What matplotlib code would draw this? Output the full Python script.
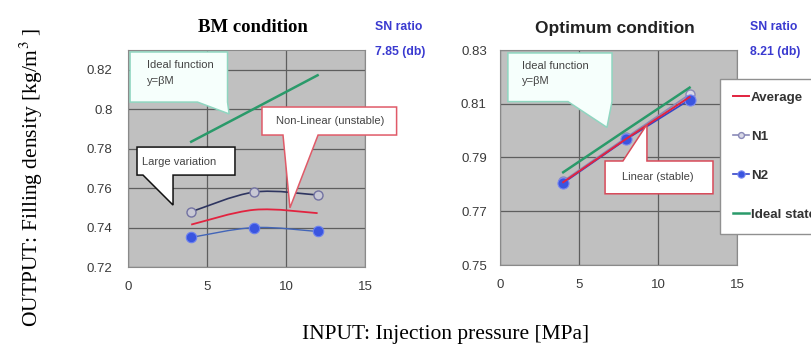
import numpy as np
import matplotlib.pyplot as plt
from matplotlib.path import Path
from matplotlib.patches import PathPatch, Polygon

plt.rcParams['font.family'] = ['Liberation Sans', 'DejaVu Sans']
plt.rcParams['mathtext.fontset'] = 'stix'

# step 1: data
pressure = [4, 8, 12]
xticks = [0, 5, 10, 15]

# BM condition (left)
bm_n1 = [0.748, 0.758, 0.7565]
bm_n2 = [0.735, 0.740, 0.738]
bm_avg = [0.7415, 0.749, 0.7473]
bm_ideal = [0.7835, 0.8003, 0.8172]
bm_yticks = [0.72, 0.74, 0.76, 0.78, 0.80, 0.82]
bm_yticklabels = ['0.72', '0.74', '0.76', '0.78', '0.8', '0.82']

# Optimum condition (right)
opt_n1 = [0.7812, 0.7975, 0.8135]
opt_n2 = [0.7805, 0.7968, 0.8115]
opt_avg = [0.7808, 0.797, 0.8125]
opt_ideal = [0.7845, 0.8003, 0.816]
opt_yticks = [0.75, 0.77, 0.79, 0.81, 0.83]
opt_yticklabels = ['0.75', '0.77', '0.79', '0.81', '0.83']

legend_labels = ['Average', 'N1', 'N2', 'Ideal state']
sn_bm = '7.85 (db)'
sn_opt = '8.21 (db)'

bg = '#c0c0c0'
grid_c = '#5e5e5e'
red = '#e2233f'
green = '#2a9a6a'
navy = '#2e3560'
blue = '#3a55e0'


def smooth_line(ax, x, y, **kw):
    # excel-like smoothed line: catmull-rom segments as bezier curves
    pts = np.column_stack([x, y]).astype(float)
    n = len(pts)
    verts = [pts[0]]
    codes = [Path.MOVETO]
    for i in range(n - 1):
        p0 = pts[max(i - 1, 0)]
        p1 = pts[i]
        p2 = pts[i + 1]
        p3 = pts[min(i + 2, n - 1)]
        verts += [p1 + (p2 - p0) / 6, p2 - (p3 - p1) / 6, p2]
        codes += [Path.CURVE4] * 3
    ax.add_patch(PathPatch(Path(verts, codes), fill=False, **kw))


def callout(ax, box, base, tip, side, text, ec, fc='white', tx=None, ty=None,
            ha='left'):
    # speech bubble: rectangle box=(x0,x1,ytop,ybot) with triangular pointer
    x0, x1, yt, yb = box
    bl, br = base
    if side == 'bottom':
        v = [(x0, yt), (x1, yt), (x1, yb), (br, yb), tip, (bl, yb), (x0, yb)]
    else:
        v = [(x0, yt), (bl, yt), tip, (br, yt), (x1, yt), (x1, yb), (x0, yb)]
    ax.add_patch(Polygon(v, closed=True, fc=fc, ec=ec, lw=1.1, zorder=10,
                         clip_on=False, joinstyle='miter'))
    ax.text(tx, ty, text, fontsize=8, color='#444444', ha=ha, va='center',
            zorder=11, linespacing=1.65)


def style_axes(ax, ylim, yticks, yticklabels, ypad):
    ax.set_facecolor(bg)
    ax.set_xlim(0, 15)
    ax.set_ylim(*ylim)
    ax.set_xticks(xticks)
    ax.set_yticks(yticks)
    ax.set_yticklabels(yticklabels)
    ax.grid(True, color=grid_c, lw=0.9)
    ax.set_axisbelow(True)
    ax.tick_params(length=0, labelsize=9.5, labelcolor='#3a3a3a')
    ax.tick_params(axis='y', pad=ypad)
    ax.tick_params(axis='x', pad=10)
    for s in ax.spines.values():
        s.set_color('#8a8a8a')
        s.set_linewidth(0.8)


fig = plt.figure(figsize=(8.12, 3.51), dpi=100)
fig.set_facecolor('white')

# left panel: BM condition
ax1 = fig.add_axes([128 / 812, 1 - 267 / 351, 237 / 812, 217 / 351])
style_axes(ax1, (0.72, 0.83), bm_yticks, bm_yticklabels, 11)

smooth_line(ax1, pressure, bm_n2, ec='#4265b8', lw=1.0, zorder=3)
ax1.plot(pressure, bm_n2, 'o', ms=7.5, mfc=blue, mec='#6a80f0', mew=0.8, zorder=4)
smooth_line(ax1, pressure, bm_n1, ec=navy, lw=1.2, zorder=3)
ax1.plot(pressure, bm_n1, 'o', ms=6.5, mfc='#c8c8d4', mec='#7272a2', mew=1.0, zorder=4)
smooth_line(ax1, pressure, bm_avg, ec=red, lw=1.3, zorder=5)
ax1.plot(pressure, bm_ideal, color=green, lw=1.8, zorder=5)

callout(ax1, (0.13, 6.3, 0.829, 0.8036), (4.4, 6.3), (6.4, 0.7976), 'bottom',
        'Ideal function\ny=\u03b2M', '#8fd6c0', fc='#f6fffc', tx=1.2, ty=0.8183)
callout(ax1, (8.48, 17.0, 0.8011, 0.7869), (9.81, 12.03), (10.25, 0.7500), 'bottom',
        'Non-Linear (unstable)', '#e05a68', tx=12.8, ty=0.7940, ha='center')
callout(ax1, (0.57, 6.77, 0.7808, 0.7666), (0.95, 2.85), (2.85, 0.7514), 'bottom',
        'Large variation', '#111111', tx=0.9, ty=0.7730)

# right panel: Optimum condition
ax2 = fig.add_axes([500 / 812, 1 - 265 / 351, 237 / 812, 215 / 351])
style_axes(ax2, (0.75, 0.83), opt_yticks, opt_yticklabels, 9.5)

l_n2, = ax2.plot(pressure, opt_n2, '-o', color='#3545c8', lw=1.2, ms=8,
                 mfc=blue, mec='#7a88f0', mew=0.8, zorder=3)
l_n1, = ax2.plot(pressure, opt_n1, '-o', color='#8a8ab8', lw=1.2, ms=6.5,
                 mfc='#d8d8e6', mec='#8a8ab8', mew=1.0, zorder=2)
l_avg, = ax2.plot(pressure, opt_avg, color=red, lw=1.4, zorder=4)
l_ideal, = ax2.plot(pressure, opt_ideal, color=green, lw=1.8, zorder=5)

callout(ax2, (0.5, 7.09, 0.8289, 0.8108), (4.3, 7.09), (6.77, 0.8012), 'bottom',
        'Ideal function\ny=\u03b2M', '#8fd6c0', fc='#f6fffc', tx=1.4, ty=0.8212)
callout(ax2, (6.65, 13.48, 0.7887, 0.7765), (7.78, 9.3), (9.3, 0.8023), 'top',
        'Linear (stable)', '#d84a5a', tx=10.0, ty=0.7826, ha='center')

# panel titles
fig.text(253 / 812, 1 - 27 / 351, 'BM condition', fontsize=13.5, fontweight='bold',
         family=['Liberation Serif', 'DejaVu Serif'], ha='center', va='center')
fig.text(615 / 812, 1 - 28 / 351, 'Optimum condition', fontsize=12.5,
         fontweight='bold', ha='center', va='center', color='#222222')

# SN ratio notes
for xp, val in [(375, sn_bm), (750, sn_opt)]:
    fig.text(xp / 812, 1 - 27 / 351, 'SN ratio', fontsize=8.8, fontweight='bold',
             color='#3a3ad0', va='center')
    fig.text(xp / 812, 1 - 52 / 351, val, fontsize=8.8, fontweight='bold',
             color='#3a3ad0', va='center')

# legend (runs off the right edge, like the original)
fig.legend([l_avg, l_n1, l_n2, l_ideal], legend_labels,
           loc='upper left', bbox_to_anchor=(720 / 812, 1 - 79 / 351),
           borderaxespad=0, fancybox=False, edgecolor='#909090', framealpha=1,
           prop={'size': 9.6, 'weight': 'bold'}, labelcolor='#333333',
           handlelength=1.25, handletextpad=0.12, labelspacing=2.0,
           borderpad=0.95, markerscale=0.65)

# axis titles
serif = ['Liberation Serif', 'DejaVu Serif']
fig.text(31 / 812, 1 - 177 / 351, 'OUTPUT: Filling density [kg/m$^{3}$ ]',
         rotation=90, ha='center', va='center', fontsize=15.5, family=serif)
fig.text(446 / 812, 1 - 335 / 351, 'INPUT: Injection pressure [MPa]',
         ha='center', va='center', fontsize=15.5, family=serif)

fig.savefig('out.png', dpi=100)
